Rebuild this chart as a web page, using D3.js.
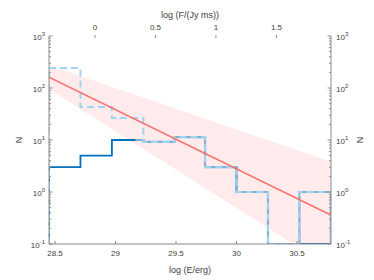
<!DOCTYPE html>
<html>
<head>
<meta charset="utf-8">
<title>Energy distribution</title>
<script src="https://cdn.jsdelivr.net/npm/d3@7"></script>
<style>
  body { margin: 0; background: #fff; }
  svg text { font-family: "Liberation Sans", Arial, sans-serif; fill: #404040; }
</style>
</head>
<body>
<svg id="chart" width="374" height="280"></svg>
<script>
// bin edges in log(E/erg)
const binEdges = [28.45, 28.71, 28.97, 29.23, 29.49, 29.74, 30.0, 30.26, 30.52, 30.78];
// detected counts (dark solid)
const countsSolid = [3, 5, 10, 9.2, 11.4, 3, 1, 0, 0];
// dashed histogram
const countsDashed = [242, 43, 26.5, 9.2, 11.4, 3, 1, 0, 1];
// light solid overlay (from bin 4 on)
const countsOverlay = [null, null, null, 9.2, 11.4, 3, 1, 0, 1];

// power-law fit and its confidence band, at the two plot edges
const fitE = [28.45, 30.78];
const fitN = [162, 0.36];
const bandHigh = [275, 3.8];
const bandLow = [95, 0.035];

const xTicks = [28.5, 29, 29.5, 30, 30.5];
const topTicks = [0, 0.5, 1, 1.5];
const topOffset = 28.83; // log F = log E - offset
const yTicks = [0.1, 1, 10, 100, 1000];
const yExp = [-1, 0, 1, 2, 3];

const svg = d3.select("#chart");
const L = 49, R = 331, T = 36, B = 244;

const x = d3.scaleLinear().domain([28.45, 30.781]).range([L, R]);
const y = d3.scaleLog().domain([0.1, 1000]).range([B, T]);
const yc = v => (v <= 0.1 ? B : y(v));

svg.append("defs").append("clipPath").attr("id", "plot")
  .append("rect").attr("x", L).attr("y", T).attr("width", R - L).attr("height", B - T);

const g = svg.append("g").attr("clip-path", "url(#plot)");

// confidence band
const bandPts = [
  [x(fitE[0]), y(bandHigh[0])], [x(fitE[1]), y(bandHigh[1])],
  [x(fitE[1]), y(bandLow[1])], [x(fitE[0]), y(bandLow[0])]
];
g.append("path")
  .attr("d", d3.line()(bandPts) + "Z")
  .attr("fill", "#ffebeb");

// step helper; fromPrev: start at previous bin's level instead of the bottom
function steps(vals, fromPrev) {
  const pts = [];
  let started = false;
  vals.forEach((v, i) => {
    if (v === null) return;
    if (!started) {
      const start = fromPrev ? yc(countsSolid[i - 1]) : B;
      pts.push([x(binEdges[i]) - (fromPrev ? 8 : 0), start]);
      if (fromPrev) pts.push([x(binEdges[i]), start]);
      started = true;
    }
    pts.push([x(binEdges[i]), yc(v)]);
    pts.push([x(binEdges[i + 1]), yc(v)]);
  });
  pts.push([pts[pts.length - 1][0], B]);
  return d3.line()(pts);
}

g.append("path").attr("d", steps(countsSolid, false))
  .attr("fill", "none").attr("stroke", "#0072BD").attr("stroke-width", 1.8);

g.append("path").attr("d", steps(countsOverlay, true))
  .attr("fill", "none").attr("stroke", "#86aed3").attr("stroke-width", 2.2);

g.append("path").attr("d", steps(countsDashed, false))
  .attr("fill", "none").attr("stroke", "#9dd6f2").attr("stroke-width", 2)
  .attr("stroke-dasharray", "7,4");

// fit line
g.append("line")
  .attr("x1", x(fitE[0])).attr("y1", y(fitN[0]))
  .attr("x2", x(fitE[1])).attr("y2", y(fitN[1]))
  .attr("stroke", "#ff6b6b").attr("stroke-width", 1.6);

const axisCol = "#8a8a8a";

// frame lines: left, right, bottom
svg.append("line").attr("x1", L).attr("x2", L).attr("y1", T).attr("y2", B).attr("stroke", axisCol);
svg.append("line").attr("x1", R).attr("x2", R).attr("y1", T).attr("y2", B).attr("stroke", axisCol);
svg.append("line").attr("x1", L).attr("x2", R).attr("y1", B).attr("y2", B).attr("stroke", axisCol);

// y ticks (major + minor) on both sides
const minor = [];
for (let e = -1; e < 3; e++) for (let m = 2; m <= 9; m++) minor.push(m * Math.pow(10, e));
[L, R].forEach((ax, side) => {
  const dir = side === 0 ? 1 : -1;
  svg.selectAll(null).data(yTicks).enter().append("line")
    .attr("x1", ax).attr("x2", ax + dir * 3.5)
    .attr("y1", d => y(d)).attr("y2", d => y(d)).attr("stroke", axisCol);
  svg.selectAll(null).data(minor).enter().append("line")
    .attr("x1", ax).attr("x2", ax + dir * 2)
    .attr("y1", d => y(d)).attr("y2", d => y(d)).attr("stroke", axisCol);
  const lab = svg.selectAll(null).data(yTicks).enter().append("text")
    .attr("x", side === 0 ? ax - 4 : ax + 5)
    .attr("y", d => y(d) + 4)
    .attr("text-anchor", side === 0 ? "end" : "start")
    .attr("font-size", 8);
  lab.append("tspan").text("10");
  lab.append("tspan").attr("dy", -4).attr("font-size", 6).text((d, i) => yExp[i]);
});

// bottom ticks
svg.selectAll(null).data(xTicks).enter().append("line")
  .attr("x1", d => x(d)).attr("x2", d => x(d))
  .attr("y1", B).attr("y2", B - 3).attr("stroke", axisCol);
svg.selectAll(null).data(xTicks).enter().append("text")
  .attr("x", d => x(d)).attr("y", B + 12)
  .attr("text-anchor", "middle").attr("font-size", 8)
  .text(d => d);

// top ticks (no axis line)
svg.selectAll(null).data(topTicks).enter().append("line")
  .attr("x1", d => x(d + topOffset)).attr("x2", d => x(d + topOffset))
  .attr("y1", T - 1).attr("y2", T + 2).attr("stroke", axisCol);
svg.selectAll(null).data(topTicks).enter().append("text")
  .attr("x", d => x(d + topOffset)).attr("y", T - 6)
  .attr("text-anchor", "middle").attr("font-size", 8)
  .text(d => d);

// axis titles
svg.append("text").attr("x", (L + R) / 2).attr("y", 273)
  .attr("text-anchor", "middle").attr("font-size", 9).text("log (E/erg)");
svg.append("text").attr("x", (L + R) / 2).attr("y", 18)
  .attr("text-anchor", "middle").attr("font-size", 9).text("log (F/(Jy ms))");
svg.append("text").attr("transform", "translate(22,140) rotate(-90)")
  .attr("text-anchor", "middle").attr("font-size", 9).text("N");
svg.append("text").attr("transform", "translate(363,140) rotate(-90)")
  .attr("text-anchor", "middle").attr("font-size", 9).text("N");
</script>
</body>
</html>
